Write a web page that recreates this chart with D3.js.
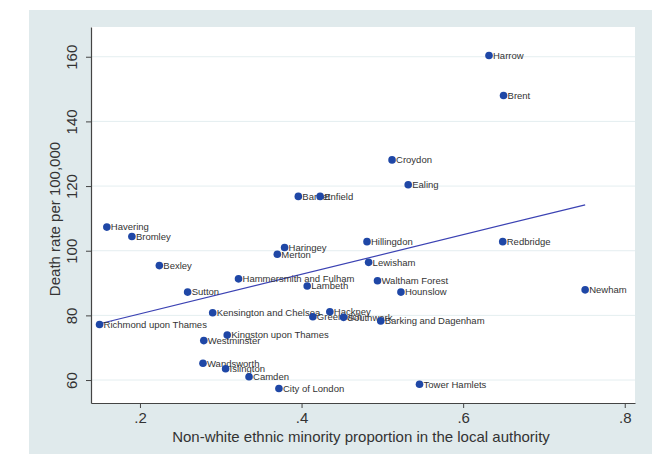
<!DOCTYPE html>
<html>
<head>
<meta charset="utf-8">
<script src="https://cdn.jsdelivr.net/npm/d3@7"></script>
<style>
  body { margin: 0; background: #fff; }
  svg { display: block; font-family: "Liberation Sans", Arial, sans-serif; }
</style>
</head>
<body>
<div id="chart"></div>
<script>
// boroughs: name, ethnic minority proportion, death rate per 100,000
const boroughs = ['Harrow', 'Brent', 'Croydon', 'Ealing', 'Barnet', 'Enfield', 'Havering', 'Bromley',
  'Hillingdon', 'Redbridge', 'Haringey', 'Merton', 'Lewisham', 'Bexley', 'Hammersmith and Fulham',
  'Waltham Forest', 'Lambeth', 'Sutton', 'Hounslow', 'Newham', 'Kensington and Chelsea', 'Hackney',
  'Greenwich', 'Southwark', 'Barking and Dagenham', 'Richmond upon Thames', 'Kingston upon Thames',
  'Westminster', 'Wandsworth', 'Islington', 'Camden', 'City of London', 'Tower Hamlets']
const minority = [0.632, 0.650, 0.512, 0.532, 0.396, 0.423, 0.159, 0.190,
  0.481, 0.649, 0.379, 0.370, 0.483, 0.224, 0.322,
  0.494, 0.407, 0.259, 0.523, 0.751, 0.290, 0.435,
  0.414, 0.452, 0.498, 0.150, 0.308,
  0.279, 0.278, 0.306, 0.335, 0.372, 0.546]
const deathRate = [160.4, 148.0, 128.1, 120.4, 116.8, 116.8, 107.3, 104.4,
  102.8, 102.8, 101.0, 98.9, 96.4, 95.4, 91.3,
  90.7, 89.1, 87.2, 87.2, 87.9, 80.8, 81.1,
  79.6, 79.4, 78.3, 77.2, 73.9,
  72.2, 65.2, 63.5, 61.0, 57.4, 58.7]

// linear fit endpoints
const fitX = [0.150, 0.751]
const fitY = [77.4, 114.2]

const xTicks = [0.2, 0.4, 0.6, 0.8]
const xTickLabels = ['.2', '.4', '.6', '.8']
const yTicks = [60, 80, 100, 120, 140, 160]

const W = 668, H = 454
const margin = { top: 27, right: 33, bottom: 51, left: 91 }
const width = W - margin.left - margin.right
const height = H - margin.top - margin.bottom

const svg = d3.select('#chart').append('svg')
  .attr('width', W)
  .attr('height', H)

// outer panel
svg.append('rect')
  .attr('x', 29).attr('y', 10)
  .attr('width', 623).attr('height', 444)
  .attr('fill', '#e0eaec')

const g = svg.append('g')
  .attr('transform', `translate(${margin.left},${margin.top})`)

g.append('rect')
  .attr('width', width).attr('height', height)
  .attr('fill', '#fff')

const x = d3.scaleLinear().domain([0.1394, 0.8127]).range([0, width])
const y = d3.scaleLinear().domain([52.9, 169.2]).range([height, 0])

// gridlines
g.selectAll('.grid')
  .data(yTicks)
  .enter().append('line')
  .attr('class', 'grid')
  .attr('x1', 0).attr('x2', width)
  .attr('y1', d => y(d)).attr('y2', d => y(d))
  .attr('stroke', '#e4eef0')
  .attr('stroke-width', 1)

// axes
const xAxis = d3.axisBottom(x)
  .tickValues(xTicks)
  .tickFormat((d, i) => xTickLabels[i])
  .tickSize(5)
  .tickSizeOuter(0)
  .tickPadding(4)

const gx = g.append('g')
  .attr('transform', `translate(0,${height})`)
  .call(xAxis)
gx.select('.domain').attr('stroke', '#444').attr('stroke-width', 1.2)
gx.selectAll('.tick line').attr('stroke', '#444')
gx.selectAll('.tick text')
  .attr('font-size', 15).attr('fill', '#333')
  .attr('font-family', '"Liberation Sans", Arial, sans-serif')

const yAxis = d3.axisLeft(y)
  .tickValues(yTicks)
  .tickSize(5)
  .tickSizeOuter(0)

const gy = g.append('g').call(yAxis)
gy.select('.domain').attr('stroke', '#444').attr('stroke-width', 1.2)
gy.selectAll('.tick line').attr('stroke', '#444')
gy.selectAll('.tick text')
  .attr('font-size', 15).attr('fill', '#333')
  .attr('font-family', '"Liberation Sans", Arial, sans-serif')
  .attr('text-anchor', 'middle')
  .attr('dy', null)
  .attr('x', null)
  .attr('transform', 'translate(-14,0) rotate(-90)')

// axis titles
svg.append('text')
  .attr('x', 361)
  .attr('y', 442)
  .attr('text-anchor', 'middle')
  .attr('font-size', 15)
  .attr('fill', '#333')
  .text('Non-white ethnic minority proportion in the local authority')

svg.append('text')
  .attr('transform', 'translate(60,219) rotate(-90)')
  .attr('text-anchor', 'middle')
  .attr('font-size', 15)
  .attr('fill', '#333')
  .text('Death rate per 100,000')

// fit line
const fit = fitX.map((v, i) => [v, fitY[i]])
g.append('path')
  .datum(fit)
  .attr('d', d3.line().x(d => x(d[0])).y(d => y(d[1])))
  .attr('fill', 'none')
  .attr('stroke', '#3b42b3')
  .attr('stroke-width', 1.2)

// points
const pts = boroughs.map((b, i) => ({ name: b, x: minority[i], y: deathRate[i] }))

const pt = g.selectAll('.pt')
  .data(pts)
  .enter().append('g')
  .attr('class', 'pt')
  .attr('transform', d => `translate(${x(d.x)},${y(d.y)})`)

pt.append('circle')
  .attr('r', 3.8)
  .attr('fill', '#1f47a6')

pt.append('text')
  .attr('x', 4)
  .attr('dy', '0.35em')
  .attr('font-size', 9.5)
  .attr('fill', '#333')
  .text(d => d.name)
</script>
</body>
</html>
